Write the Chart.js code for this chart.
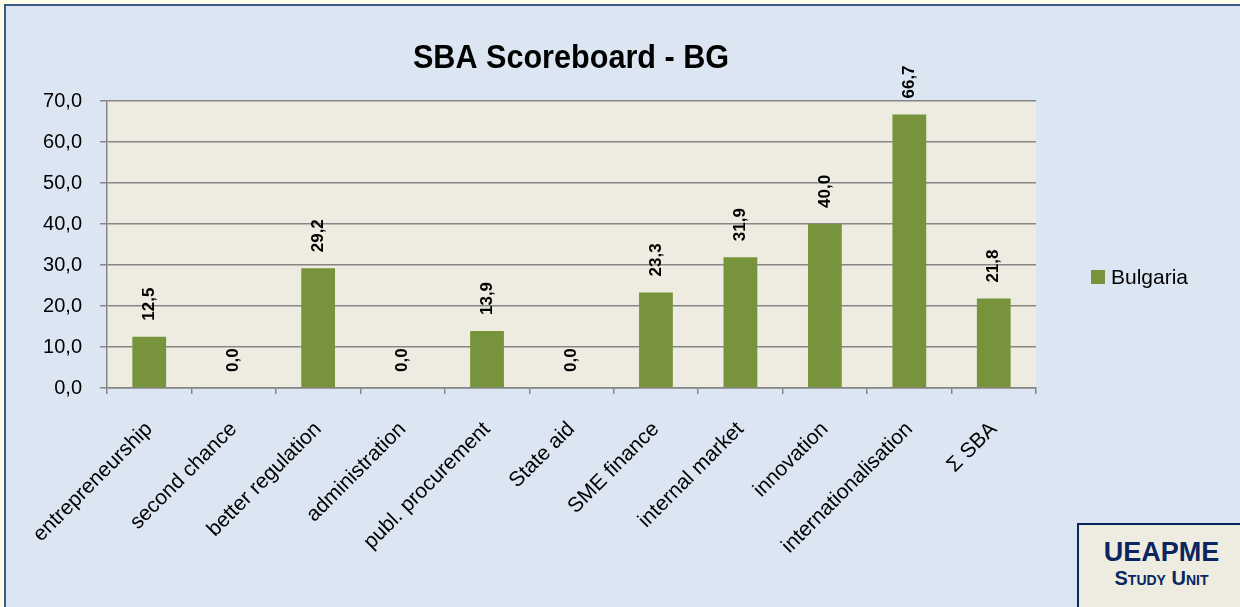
<!DOCTYPE html>
<html>
<head>
<meta charset="utf-8">
<script src="https://cdn.jsdelivr.net/npm/chart.js@4/dist/chart.umd.min.js"></script>
<style>
  html, body { margin: 0; padding: 0; }
  body { width: 1240px; height: 607px; background: #fdfde8; position: relative; overflow: hidden;
         font-family: "Liberation Sans", Arial, sans-serif; }
  #frame { position: absolute; left: 4px; top: 4px; width: 1250px; height: 620px;
           background: #dce6f2; border: 2px solid #3b5a8a; box-sizing: border-box; }
  #wrap { position: absolute; left: 0; top: 0; width: 1240px; height: 607px; }
  #legend { position: absolute; left: 1091px; top: 265px; display: flex; align-items: center;
            font-size: 21px; color: #000; }
  #legend .sw { width: 14px; height: 14px; background: #77933c; margin-right: 6px; }
  #badge { position: absolute; left: 1077px; top: 523px; width: 180px; height: 100px;
           background: #eeece1; border: 2px solid #0b2560; box-sizing: border-box; color: #0b2560; }
  #badge .t1 { position: absolute; left: 0; width: 165px; top: 12px; text-align: center;
               font-weight: bold; font-size: 27px; line-height: 30px; }
  #badge .t2 { position: absolute; left: 0; width: 165px; top: 43px; text-align: center;
               font-weight: bold; line-height: 20px; font-variant: small-caps; font-size: 20px; }
</style>
</head>
<body>
<div id="frame"></div>
<div id="wrap"><canvas id="sba" width="1240" height="607"></canvas></div>
<div id="legend"><span class="sw"></span><span>Bulgaria</span></div>
<div id="badge"><div class="t1">UEAPME</div><div class="t2">Study Unit</div></div>
<script>
// SBA Scoreboard - BG: one series of scores per SBA policy area.
const CATEGORIES = ["entrepreneurship", "second chance", "better regulation", "administration",
  "publ. procurement", "State aid", "SME finance", "internal market", "innovation",
  "internationalisation", "Σ SBA"];
const BULGARIA = [12.5, 0.0, 29.2, 0.0, 13.9, 0.0, 23.3, 31.9, 40.0, 66.7, 21.8];
const Y_TICKS = [0, 10, 20, 30, 40, 50, 60, 70];

const fmt = (v) => Number(v).toFixed(1).replace(".", ",");
const GRID = "#868686";
const FONT = "'Liberation Sans', Arial, sans-serif";

// Plot-area fill drawn before anything else so gridlines sit on top.
const plotBg = {
  id: "plotBg",
  beforeDraw(c) {
    const a = c.chartArea, ctx = c.ctx;
    ctx.save();
    ctx.fillStyle = "#eeece1";
    ctx.fillRect(a.left, a.top, a.right - a.left, a.bottom - a.top);
    ctx.restore();
  },
};

// Title, drawn slightly condensed like the original.
const titleText = {
  id: "titleText",
  afterDraw(c) {
    const ctx = c.ctx;
    ctx.save();
    ctx.translate(571, 68);
    ctx.scale(0.9, 1);
    ctx.font = `bold 34px ${FONT}`;
    ctx.fillStyle = "#000";
    ctx.textAlign = "center";
    ctx.textBaseline = "alphabetic";
    ctx.fillText("SBA Scoreboard - BG", 0, 0);
    ctx.restore();
  },
};

// Vertical value labels above each bar.
const valueLabels = {
  id: "valueLabels",
  afterDatasetsDraw(c) {
    const ctx = c.ctx;
    const meta = c.getDatasetMeta(0);
    ctx.save();
    ctx.font = `bold 17px ${FONT}`;
    ctx.fillStyle = "#000";
    ctx.textAlign = "left";
    ctx.textBaseline = "middle";
    meta.data.forEach((bar, i) => {
      ctx.save();
      ctx.translate(bar.x, bar.y - 16);
      ctx.rotate(-Math.PI / 2);
      ctx.fillText(fmt(BULGARIA[i]), 0, 0);
      ctx.restore();
    });
    ctx.restore();
  },
};

new Chart(document.getElementById("sba"), {
  type: "bar",
  data: {
    labels: CATEGORIES,
    datasets: [{
      label: "Bulgaria",
      data: BULGARIA,
      backgroundColor: "#77933c",
      borderWidth: 0,
      categoryPercentage: 1,
      barPercentage: 0.4,
    }],
  },
  options: {
    responsive: false,
    animation: false,
    events: [],
    layout: { padding: { top: 101, left: 0, right: 204, bottom: 0 } },
    plugins: { legend: { display: false }, title: { display: false }, tooltip: { enabled: false } },
    scales: {
      x: {
        afterFit: (s) => { s.height = 219; },
        grid: { drawOnChartArea: false, drawTicks: true, tickLength: 6, color: GRID, lineWidth: 1.5 },
        border: { color: GRID, width: 1.5 },
        ticks: { color: "#000", font: { family: FONT, size: 21 }, minRotation: 45, maxRotation: 45,
                 autoSkip: false, padding: 23 },
      },
      y: {
        min: 0, max: 70,
        afterFit: (s) => { s.width = 107; },
        afterBuildTicks: (s) => { s.ticks = Y_TICKS.map(v => ({ value: v })); },
        grid: { color: GRID, lineWidth: 1.5, drawTicks: true, tickLength: 7 },
        border: { color: GRID, width: 1.5 },
        ticks: { color: "#000", font: { family: FONT, size: 20 }, padding: 18, callback: (v) => fmt(v) },
      },
    },
  },
  plugins: [plotBg, valueLabels, titleText],
});
</script>
</body>
</html>
